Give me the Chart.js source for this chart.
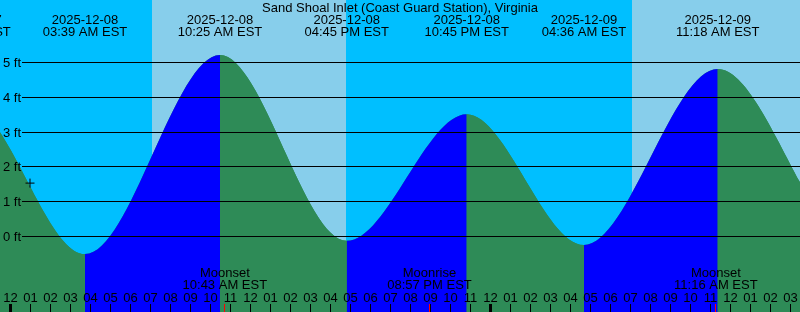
<!DOCTYPE html>
<html>
<head>
<meta charset="utf-8">
<script src="https://cdn.jsdelivr.net/npm/chart.js@4"></script>
<style>
  html, body { margin: 0; padding: 0; background: #00bfff; }
  #wrap { width: 800px; height: 312px; position: relative; }
</style>
</head>
<body>
<div id="wrap"><canvas id="tideChart"></canvas></div>
<script>
const stationName = "Sand Shoal Inlet (Coast Guard Station), Virginia";

// hours counted from 2025-12-08 00:00 EST
const tideHours = [-8.3, -2.1, 3.725, 10.475, 16.81, 22.81, 28.675, 35.36, 42.3, 48.2];
const tideHeights = [-0.3, 3.75, -0.52, 5.2, -0.14, 3.5, -0.26, 4.8, -0.3, 3.6];
const tideDates = ["", "2025-12-07", "2025-12-08", "2025-12-08", "2025-12-08", "2025-12-08", "2025-12-09", "2025-12-09", "", ""];
const tideTimes = ["", "09:54 PM EST", "03:39 AM EST", "10:25 AM EST", "04:45 PM EST", "10:45 PM EST", "04:36 AM EST", "11:18 AM EST", "", ""];

const sunriseHours = [7.075, 31.075];
const sunsetHours = [16.775, 40.8];

const moonHours = [10.717, 20.95, 35.267];
const moonNames = ["Moonset", "Moonrise", "Moonset"];
const moonTimes = ["10:43 AM EST", "08:57 PM EST", "11:16 AM EST"];

const nowHour = [0.975];
const nowHeight = [1.52];

const heightTicks = [0, 1, 2, 3, 4, 5];
const firstHour = 0;
const lastHour = 39;

const nightColor = "#00bfff";
const dayColor = "#87ceeb";
const risingColor = "#0000ff";
const fallingColor = "#2e8b57";
const font = "13px 'Liberation Sans', Arial, sans-serif";

function hourLabel(h) {
  const hr = ((h % 12) + 12) % 12 || 12;
  return String(hr).padStart(2, "0");
}

const skyPlugin = {
  id: "sky",
  beforeDatasetsDraw(chart) {
    const { ctx, chartArea, scales } = chart;
    ctx.save();
    ctx.fillStyle = nightColor;
    ctx.fillRect(chartArea.left, chartArea.top, chartArea.width, chartArea.height);
    ctx.fillStyle = dayColor;
    sunriseHours.forEach((s, i) => {
      const x0 = Math.round(scales.x.getPixelForValue(s));
      const x1 = Math.round(scales.x.getPixelForValue(sunsetHours[i]));
      ctx.fillRect(x0, chartArea.top, x1 - x0, chartArea.height);
    });
    ctx.restore();
  },
};

const labelPlugin = {
  id: "labels",
  afterDatasetsDraw(chart) {
    const { ctx, chartArea, scales } = chart;
    const xs = scales.x, ys = scales.y;
    ctx.save();
    ctx.font = font;
    ctx.fillStyle = "#000";

    // height grid + labels
    heightTicks.forEach((v) => {
      const y = Math.round(ys.getPixelForValue(v));
      ctx.fillRect(22, y, chartArea.right - 22, 1);
      ctx.textAlign = "left";
      ctx.fillText(v + " ft", 3, y + 4.5);
    });

    // title
    ctx.textAlign = "center";
    ctx.fillText(stationName, 400, 12);

    // high / low labels
    tideHours.forEach((h, i) => {
      if (!tideTimes[i]) return;
      const x = xs.getPixelForValue(h);
      ctx.fillText(tideDates[i], x, 24);
      ctx.fillText(tideTimes[i], x, 36);
    });

    // moon events
    moonHours.forEach((h, i) => {
      const x = xs.getPixelForValue(h);
      ctx.fillStyle = "#000";
      ctx.fillText(moonNames[i], x, 277);
      ctx.fillText(moonTimes[i], x, 289);
      ctx.fillStyle = "#ff0000";
      ctx.fillRect(Math.floor(x), 304, 1, 8);
    });

    // hour ticks
    ctx.fillStyle = "#000";
    for (let h = firstHour; h <= lastHour; h++) {
      const x = xs.getPixelForValue(h);
      ctx.fillText(hourLabel(h), x, 302);
      if (h % 24 === 0) ctx.fillRect(Math.floor(x) - 1, 304, 3, 8);
      else ctx.fillRect(Math.floor(x), 304, 1, 8);
    }
    ctx.restore();
  },
};

const tidePoints = tideHours.map((h, i) => ({ x: h, y: tideHeights[i] }));
const nowPoints = nowHour.map((h, i) => ({ x: h, y: nowHeight[i] }));

new Chart(document.getElementById("tideChart"), {
  type: "line",
  data: {
    datasets: [
      {
        data: nowPoints,
        showLine: false,
        pointStyle: "cross",
        pointRadius: 4.5,
        borderColor: "#000",
        borderWidth: 1,
        order: 0,
      },
      {
        data: tidePoints,
        cubicInterpolationMode: "monotone",
        fill: "start",
        backgroundColor: fallingColor,
        borderColor: "rgba(0,0,0,0)",
        borderWidth: 0,
        pointRadius: 0,
        order: 1,
        segment: {
          backgroundColor: (c) => (c.p1.parsed.y > c.p0.parsed.y ? risingColor : fallingColor),
        },
      },
      {
        // plain underlay so no sky shows through the seams between segments
        data: tidePoints,
        cubicInterpolationMode: "monotone",
        fill: "start",
        backgroundColor: fallingColor,
        borderColor: "rgba(0,0,0,0)",
        borderWidth: 0,
        pointRadius: 0,
        order: 2,
      },
    ],
  },
  options: {
    responsive: true,
    maintainAspectRatio: false,
    animation: false,
    layout: { padding: 0, autoPadding: false },
    plugins: { legend: { display: false }, tooltip: { enabled: false } },
    scales: {
      x: { type: "linear", min: -0.525, max: 39.475, display: false },
      y: { min: -2.184, max: 6.782, display: false },
    },
  },
  plugins: [skyPlugin, labelPlugin],
});
</script>
</body>
</html>
